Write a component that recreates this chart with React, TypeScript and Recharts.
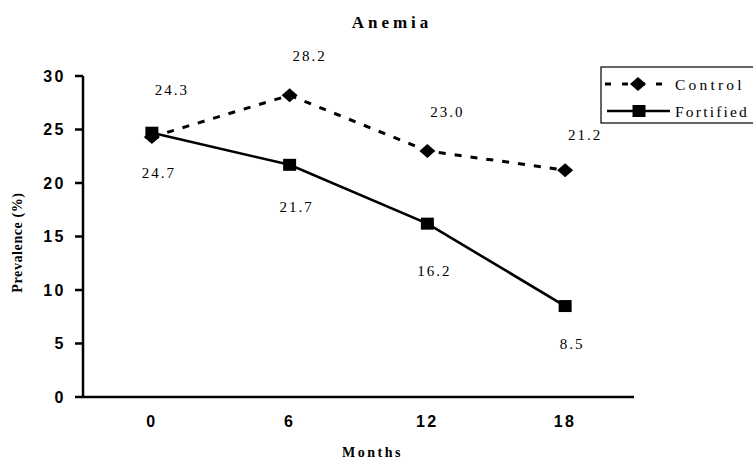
import React from 'react';
import { LineChart, Line, XAxis, YAxis, Legend, LabelList } from 'recharts';

const months = [0, 6, 12, 18];
const controlValues = [24.3, 28.2, 23.0, 21.2];
const fortifiedValues = [24.7, 21.7, 16.2, 8.5];
const yTicks = [0, 5, 10, 15, 20, 25, 30];
// tick marks sit between the months, not under them
const boundaryTicks = [-3, 3, 9, 15, 21];

// how far each value label sits from its point (px)
const controlLabelDy = [-47, -39, -39, -35];
const fortifiedLabelDy = [40, 42, 47, 38];

const data = months.map((m, i) => ({
    month: m,
    control: controlValues[i],
    fortified: fortifiedValues[i],
}));

const SERIF = '"Liberation Serif", "Times New Roman", serif';
const SANS = '"Liberation Sans", Arial, sans-serif';
const INK = '#000';

const DiamondDot = (props: any) => {
    const { cx, cy } = props;
    if (cx == null || cy == null) return null;
    return <polygon points={`${cx},${cy - 7} ${cx + 8},${cy} ${cx},${cy + 7} ${cx - 8},${cy}`} fill={INK} />;
};

const SquareDot = (props: any) => {
    const { cx, cy } = props;
    if (cx == null || cy == null) return null;
    return <rect x={cx - 6.5} y={cy - 6} width={13} height={12} fill={INK} />;
};

const valueLabel = (dx: number, dys: number[]) => (props: any) => {
    const { x, y, value, index } = props;
    const dy = dys[index] ?? dys[0];
    return (
        <text
            x={x + dx}
            y={y + dy}
            textAnchor="middle"
            dominantBaseline="central"
            fontFamily={SERIF}
            fontSize={15}
            letterSpacing={2}
            fill={INK}
        >
            {Number(value).toFixed(1)}
        </text>
    );
};

const YTitle = (props: any) => {
    const vb = props.viewBox || { x: 23, y: 76, width: 60, height: 321 };
    const x = vb.x - 6;
    const y = vb.y + vb.height / 2 + 6;
    return (
        <text
            x={x}
            y={y}
            transform={`rotate(-90, ${x}, ${y})`}
            textAnchor="middle"
            dominantBaseline="central"
            fontFamily={SERIF}
            fontWeight="bold"
            fontSize={14}
            letterSpacing={0.6}
            fill={INK}
        >
            Prevalence (%)
        </text>
    );
};

const XTitle = (props: any) => {
    const vb = props.viewBox || { x: 83, y: 398, width: 551, height: 64 };
    return (
        <text
            x={vb.x + vb.width / 2 + 14}
            y={vb.y + 54}
            textAnchor="middle"
            dominantBaseline="central"
            fontFamily={SERIF}
            fontWeight="bold"
            fontSize={14}
            letterSpacing={2.5}
            fill={INK}
        >
            Months
        </text>
    );
};

const renderLegend = (props: any) => {
    const names = (props.payload || []).map((p: any) => p.value);
    return (
        <svg width={160} height={58} style={{ display: 'block', overflow: 'visible' }}>
            <rect x={1} y={1} width={170} height={56} fill="#fff" stroke={INK} strokeWidth={1.2} />
            <line x1={5} y1={18} x2={69} y2={18} stroke={INK} strokeWidth={3} strokeDasharray="6 11" />
            <polygon points="38,11 46,18 38,25 30,18" fill={INK} />
            <text x={75} y={18} dominantBaseline="central" fontFamily={SERIF} fontSize={15.5} letterSpacing={3.2} fill={INK}>
                {names[0] || 'Control'}
            </text>
            <line x1={7} y1={45} x2={70} y2={45} stroke={INK} strokeWidth={2.5} />
            <rect x={32.5} y={39} width={13} height={12} fill={INK} />
            <text x={75} y={45} dominantBaseline="central" fontFamily={SERIF} fontSize={15.5} letterSpacing={2.2} fill={INK}>
                {names[1] || 'Fortified'}
            </text>
        </svg>
    );
};

const App = () => {
    return (
        <div style={{ position: 'absolute', left: 0, top: 0, width: 753, height: 462, background: '#fff', overflow: 'hidden' }}>
            <div
                style={{
                    position: 'absolute',
                    left: 0,
                    top: 13,
                    width: 784,
                    textAlign: 'center',
                    fontFamily: SERIF,
                    fontWeight: 'bold',
                    fontSize: 17,
                    letterSpacing: 4,
                    lineHeight: '19px',
                    color: INK,
                    zIndex: 2,
                }}
            >
                Anemia
            </div>
            <LineChart width={753} height={462} data={data} margin={{ top: 76, right: 119, bottom: 0, left: 23 }}>
                <XAxis
                    xAxisId="bounds"
                    type="number"
                    dataKey="month"
                    domain={[-3, 21]}
                    ticks={boundaryTicks}
                    tick={false}
                    tickSize={7}
                    height={1}
                    axisLine={{ stroke: INK, strokeWidth: 2.5 }}
                    tickLine={{ stroke: INK, strokeWidth: 2.5 }}
                    allowDataOverflow
                />
                <XAxis
                    xAxisId="m"
                    type="number"
                    dataKey="month"
                    domain={[-3, 21]}
                    ticks={months}
                    height={64}
                    axisLine={false}
                    tickLine={false}
                    tickSize={0}
                    tickMargin={18}
                    tick={{ fill: INK, fontFamily: SANS, fontWeight: 'bold', fontSize: 16, letterSpacing: 2.5 }}
                    label={<XTitle />}
                    allowDataOverflow
                />
                <YAxis
                    type="number"
                    domain={[0, 30]}
                    ticks={yTicks}
                    width={60}
                    tickSize={8}
                    tickMargin={9}
                    axisLine={{ stroke: INK, strokeWidth: 2.5 }}
                    tickLine={{ stroke: INK, strokeWidth: 2.5 }}
                    tick={{ fill: INK, fontFamily: SANS, fontWeight: 'bold', fontSize: 16, letterSpacing: 2.5 }}
                    label={<YTitle />}
                />
                <Legend
                    layout="horizontal"
                    verticalAlign="middle"
                    align="center"
                    content={renderLegend}
                    wrapperStyle={{ position: 'absolute', left: 600, top: 66, width: 160, height: 58 }}
                />
                <Line
                    xAxisId="m"
                    name="Fortified"
                    dataKey="fortified"
                    stroke={INK}
                    strokeWidth={2.6}
                    dot={<SquareDot />}
                    activeDot={false}
                    isAnimationActive={false}
                >
                    <LabelList dataKey="fortified" content={valueLabel(7, fortifiedLabelDy)} />
                </Line>
                <Line
                    xAxisId="m"
                    name="Control"
                    dataKey="control"
                    stroke={INK}
                    strokeWidth={3}
                    strokeDasharray="7 9"
                    dot={<DiamondDot />}
                    activeDot={false}
                    isAnimationActive={false}
                >
                    <LabelList dataKey="control" content={valueLabel(20, controlLabelDy)} />
                </Line>
            </LineChart>
        </div>
    );
};

export default App;
